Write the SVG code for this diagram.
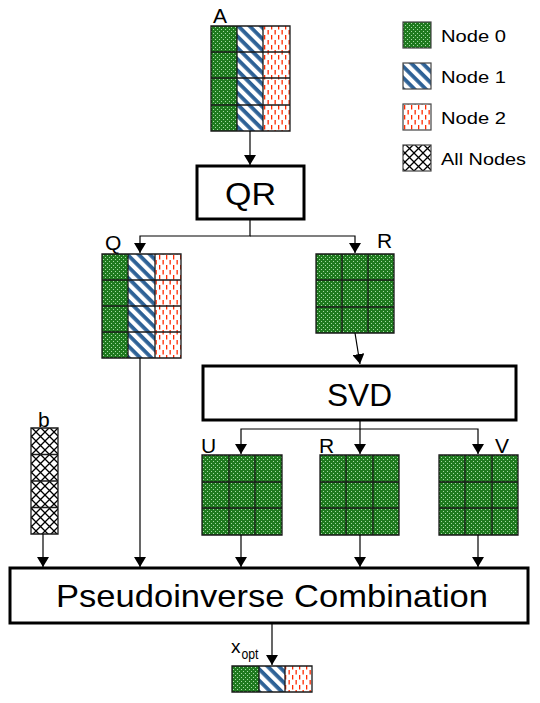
<svg xmlns="http://www.w3.org/2000/svg" width="540" height="703" viewBox="0 0 540 703">
<style>
text{font-family:"Liberation Sans",Arial,sans-serif;fill:#000}
.lbl{font-size:21px}
.big{font-size:32px;text-anchor:middle}
.leg{font-size:17px}
.box{fill:#fff;stroke:#000;stroke-width:3}
.grid{fill:none;stroke:#1a1a1a;stroke-width:1.3}
.c{fill:none;stroke:#000;stroke-width:1.2}
.n0{fill:url(#p0)}
.n1{fill:url(#p1)}
.n2{fill:url(#p2)}
.na{fill:url(#pa)}
</style>
<defs>
<pattern id="p0" width="4" height="4" patternUnits="userSpaceOnUse"><rect width="4" height="4" fill="#1f7a1f"/><rect x="1" y="1" width="1" height="1" fill="#a6dca6"/><rect x="3" y="3" width="1" height="1" fill="#a6dca6"/></pattern>
<pattern id="p1" width="8" height="8" patternUnits="userSpaceOnUse" patternTransform="rotate(45)"><rect width="8" height="8" fill="#fff"/><rect width="8" height="3.8" fill="#2d6196"/></pattern>
<pattern id="p2" width="7" height="10" patternUnits="userSpaceOnUse"><rect width="7" height="10" fill="#fff"/><rect x="1.5" y="0" width="1.3" height="4.5" fill="#ff2a00"/><rect x="5" y="5" width="1.3" height="4.5" fill="#ff2a00"/></pattern>
<pattern id="pa" width="9" height="9" patternUnits="userSpaceOnUse"><rect width="9" height="9" fill="#fff"/><path d="M0,0L9,9M9,0L0,9" stroke="#000" stroke-width="1.3"/></pattern>
<marker id="ah" markerWidth="10" markerHeight="12" refX="10" refY="6" orient="auto" markerUnits="userSpaceOnUse"><path d="M0,0L10,6L0,12z" fill="#000"/></marker>
</defs>

<g id="legend">
<rect x="403" y="22" width="28" height="26" class="n0" stroke="#444" stroke-width="1.2"/>
<text x="441" y="42" class="leg" textLength="65" lengthAdjust="spacingAndGlyphs">Node 0</text>
<rect x="403" y="63" width="28" height="26" class="n1" stroke="#444" stroke-width="1.2"/>
<text x="441" y="83" class="leg" textLength="65" lengthAdjust="spacingAndGlyphs">Node 1</text>
<rect x="403" y="104" width="28" height="26" class="n2" stroke="#444" stroke-width="1.2"/>
<text x="441" y="124" class="leg" textLength="65" lengthAdjust="spacingAndGlyphs">Node 2</text>
<rect x="403" y="145" width="28" height="26" class="na" stroke="#444" stroke-width="1.2"/>
<text x="441" y="165" class="leg" textLength="85" lengthAdjust="spacingAndGlyphs">All Nodes</text>
</g>

<g id="matA">
<text x="213" y="23" class="lbl" font-size="22">A</text>
<rect x="211" y="26" width="26" height="105" class="n0"/>
<rect x="237" y="26" width="26" height="105" class="n1"/>
<rect x="263" y="26" width="27" height="105" class="n2"/>
<path class="grid" d="M211,26h79v105h-79zM237,26v105M263,26v105M211,52h79M211,78h79M211,105h79"/>
</g>

<g id="qr">
<rect x="197" y="166" width="107" height="53" class="box"/>
<text x="250.5" y="205" class="big" textLength="51" lengthAdjust="spacingAndGlyphs">QR</text>
</g>

<g id="matQ">
<text x="105" y="250" class="lbl">Q</text>
<rect x="102" y="254" width="26" height="104" class="n0"/>
<rect x="128" y="254" width="27" height="104" class="n1"/>
<rect x="155" y="254" width="26" height="104" class="n2"/>
<path class="grid" d="M102,254h79v104h-79zM128,254v104M155,254v104M102,280h79M102,306h79M102,332h79"/>
</g>

<g id="matR1">
<text x="377" y="248" class="lbl">R</text>
<rect x="316" y="254" width="78" height="79" class="n0"/>
<path class="grid" d="M316,254h78v79h-78zM342,254v79M368,254v79M316,280h78M316,307h78"/>
</g>

<g id="svd">
<rect x="203" y="366" width="313" height="54" class="box"/>
<text x="359.5" y="406" class="big" textLength="65" lengthAdjust="spacingAndGlyphs">SVD</text>
</g>

<g id="matB">
<text x="38" y="427" class="lbl" font-size="19">b</text>
<rect x="31" y="428" width="27" height="106" class="na"/>
<path class="grid" d="M31,428h27v106h-27zM31,454.5h27M31,481h27M31,507.5h27"/>
</g>

<g id="matU">
<text x="201" y="453" class="lbl">U</text>
<rect x="202" y="455" width="80" height="80" class="n0"/>
<path class="grid" d="M202,455h80v80h-80zM229,455v80M255,455v80M202,482h80M202,508h80"/>
</g>

<g id="matR2">
<text x="319" y="453" class="lbl">R</text>
<rect x="320" y="455" width="79" height="80" class="n0"/>
<path class="grid" d="M320,455h79v80h-79zM346,455v80M373,455v80M320,482h79M320,508h79"/>
</g>

<g id="matV">
<text x="495" y="453" class="lbl">V</text>
<rect x="439" y="455" width="79" height="80" class="n0"/>
<path class="grid" d="M439,455h79v80h-79zM465,455v80M492,455v80M439,482h79M439,508h79"/>
</g>

<g id="pinv">
<rect x="10" y="568" width="518" height="55" class="box"/>
<text x="272" y="607" class="big" textLength="432" lengthAdjust="spacingAndGlyphs">Pseudoinverse Combination</text>
</g>

<g id="xopt">
<text x="231" y="653" font-size="19">x</text>
<text x="241.5" y="659" font-size="14" textLength="17" lengthAdjust="spacingAndGlyphs">opt</text>
<rect x="232" y="666" width="27" height="26" class="n0"/>
<rect x="259" y="666" width="26" height="26" class="n1"/>
<rect x="285" y="666" width="27" height="26" class="n2"/>
<path class="grid" d="M232,666h80v26h-80zM259,666v26M285,666v26"/>
</g>

<g id="connectors">
<path class="c" d="M250,131V165" marker-end="url(#ah)"/>
<path class="c" d="M250,219V236H140V253" marker-end="url(#ah)"/>
<path class="c" d="M250,236H355V253" marker-end="url(#ah)"/>
<path class="c" d="M355,333L360,364" marker-end="url(#ah)"/>
<path class="c" d="M360,420V429H241V454" marker-end="url(#ah)"/>
<path class="c" d="M360,429V454" marker-end="url(#ah)"/>
<path class="c" d="M360,429H478V454" marker-end="url(#ah)"/>
<path class="c" d="M43,534V567" marker-end="url(#ah)"/>
<path class="c" d="M140,358V567" marker-end="url(#ah)"/>
<path class="c" d="M241,535V567" marker-end="url(#ah)"/>
<path class="c" d="M360,535V567" marker-end="url(#ah)"/>
<path class="c" d="M478,535V567" marker-end="url(#ah)"/>
<path class="c" d="M272,623V665" marker-end="url(#ah)"/>
</g>
</svg>
